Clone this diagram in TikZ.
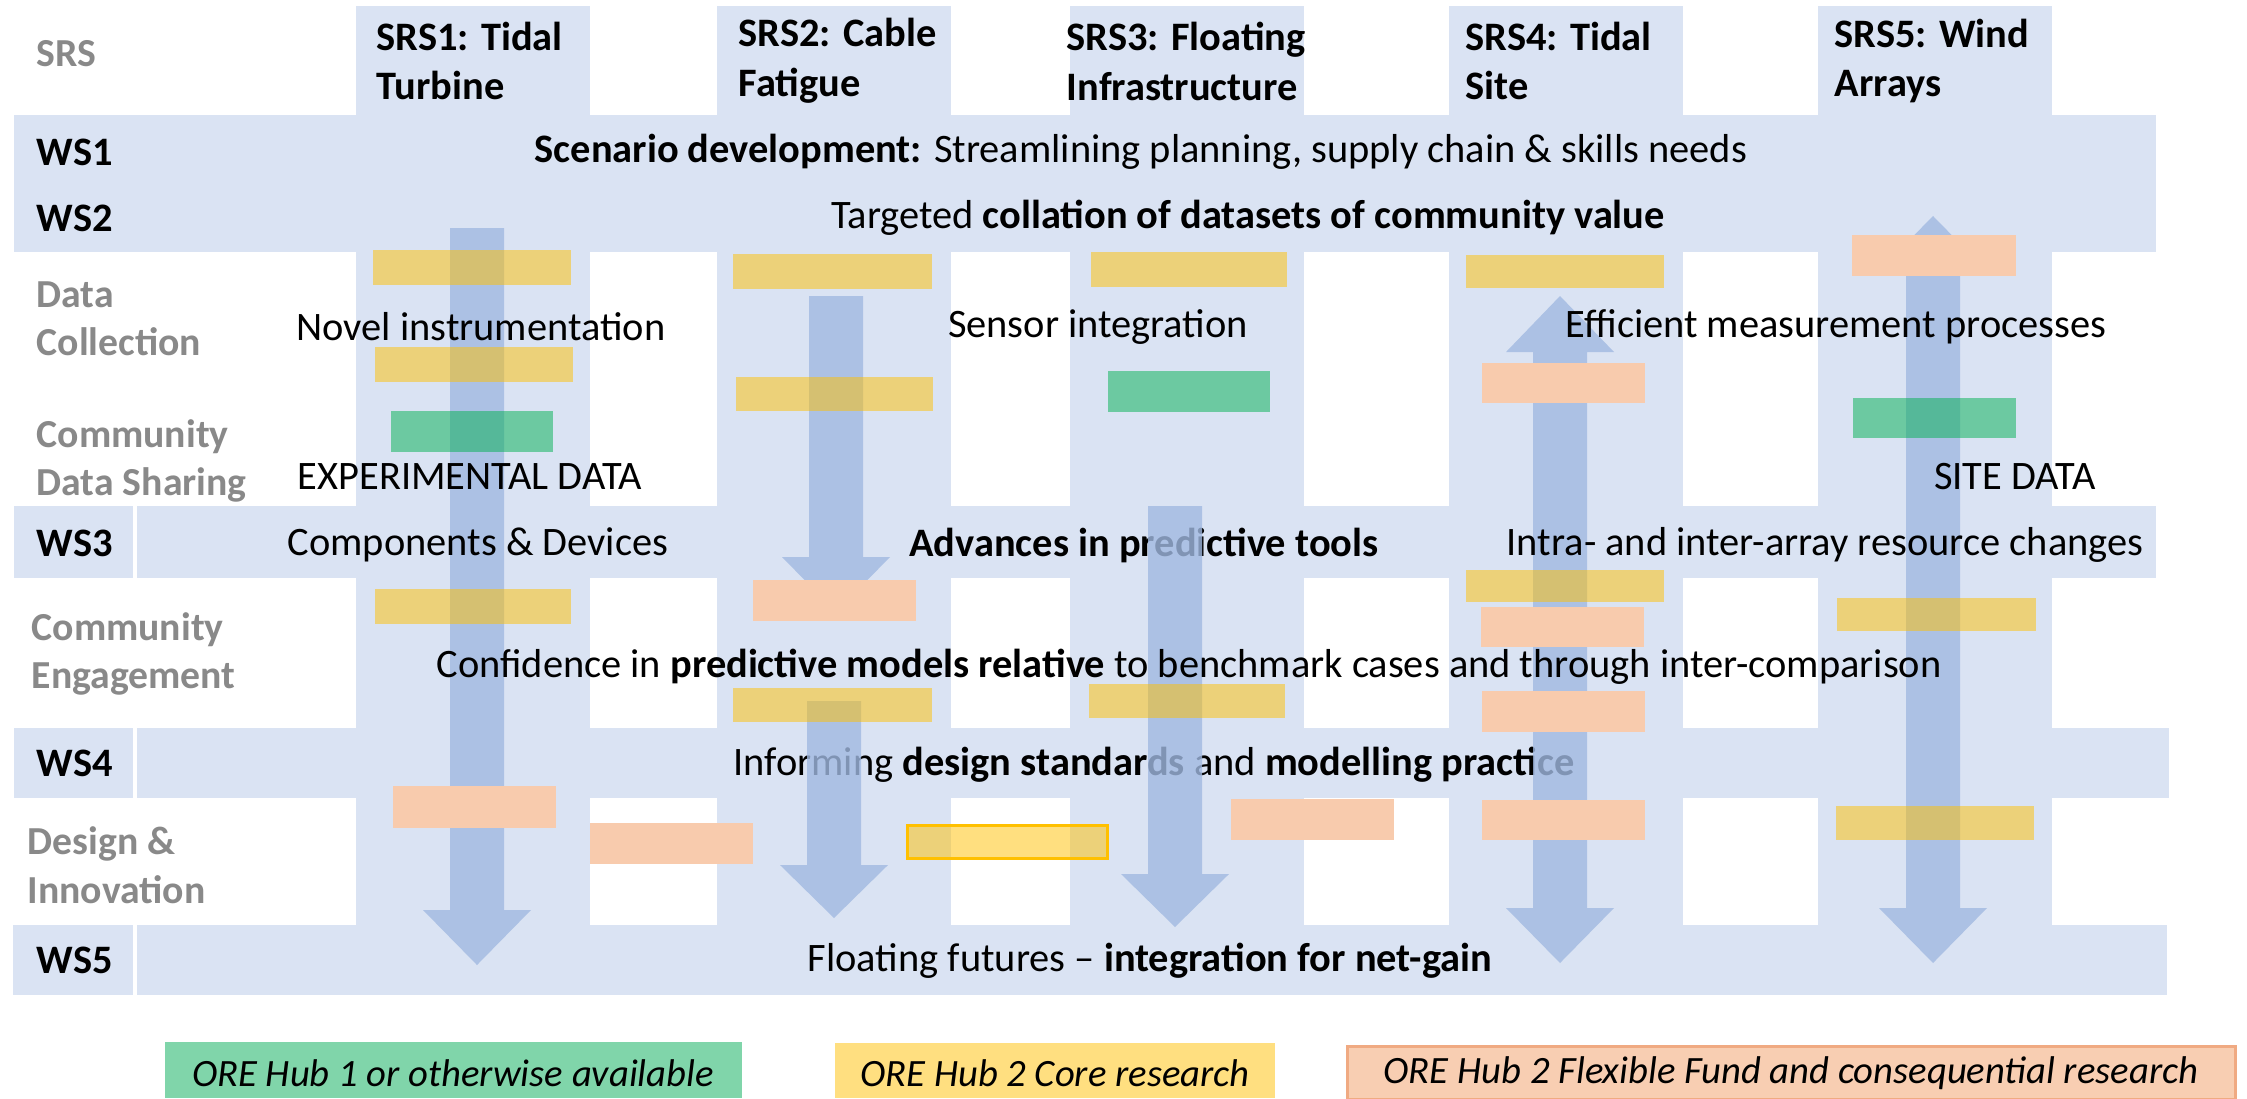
\documentclass[tikz,border=0pt]{standalone}
\usepackage{fontspec}
\setmainfont{Carlito}
\usetikzlibrary{positioning}

\definecolor{bandblue}{RGB}{218,227,243}
\definecolor{flowblue}{RGB}{161,185,225}
\definecolor{coreyellow}{RGB}{255,192,0}
\definecolor{hubgreen}{RGB}{0,176,80}
\definecolor{flexorange}{RGB}{248,203,173}
\definecolor{labelgray}{RGB}{137,137,137}
\definecolor{lgdgreen}{RGB}{128,213,170}
\definecolor{lgdyellow}{RGB}{255,223,128}
\definecolor{lgdorange}{RGB}{248,206,178}
\definecolor{lgdedge}{RGB}{240,170,130}

% block arrows: x, top, head base, tip
\newcommand{\flowdown}[4]{\fill[flow] (#1-27,#2) -- (#1+27,#2) -- (#1+27,#3) -- (#1+54,#3) -- (#1,#4) -- (#1-54,#3) -- (#1-27,#3) -- cycle;}
% both ways: x, top tip, top base, bottom base, bottom tip
\newcommand{\flowboth}[5]{\fill[flow] (#1,#2) -- (#1+54,#3) -- (#1+27,#3) -- (#1+27,#4) -- (#1+54,#4) -- (#1,#5) -- (#1-54,#4) -- (#1-27,#4) -- (#1-27,#3) -- (#1-54,#3) -- cycle;}

\begin{document}
\begin{tikzpicture}[
    x=0.1mm, y=-0.1mm,
    band/.style={fill=bandblue},
    flow/.style={fill=flowblue, fill opacity=0.8},
    ylw/.style={fill=coreyellow, fill opacity=0.5},
    grn/.style={fill=hubgreen, fill opacity=0.5},
    org/.style={fill=flexorange},
    txt/.style={inner sep=0, font=\fontsize{11.5}{14.2}\selectfont},
    head/.style={txt, anchor=west, align=left, font=\fontsize{11.5}{14.2}\selectfont\bfseries},
    wslab/.style={txt, anchor=west, font=\fontsize{11.5}{14.2}\selectfont\bfseries},
    rowlab/.style={txt, anchor=west, align=left, text=labelgray, font=\fontsize{11.3}{13.8}\selectfont\bfseries},
    lgd/.style={inner sep=0, font=\fontsize{11}{14}\selectfont\itshape}
]
\useasboundingbox (0,0) rectangle (2247,1098);

% SRS columns and WS bands
\foreach \cx in {356,717,1070,1449,1818}
    \fill[band] (\cx,6) rectangle (\cx+234,926);
\fill[band] (14,115) rectangle (2156,252);
\fill[band] (14,506) rectangle (2156,578);
\fill[band] (14,728) rectangle (2169,798);
\fill[band] (13,925) rectangle (2167,995);
\draw[white, line width=0.4mm] (135,506) -- (135,578) (135,728) -- (135,798) (135,925) -- (135,995);

% Row labels
\node[rowlab] (lsrs) at (36,54) {SRS};
\node[wslab] (lws1) at (36,152) {WS1};
\node[wslab] (lws2) at (36,218) {WS2};
\node[rowlab] (ldata) at (36,319) {Data\\Collection};
\node[rowlab] (lshare) at (36,461) {Community\\Data Sharing};
\node[wslab] (lws3) at (36,543) {WS3};
\node[rowlab] (lengage) at (31,654) {Community\\Engagement};
\node[wslab] (lws4) at (36,763) {WS4};
\node[rowlab] (ldesign) at (27,865) {Design \&\\Innovation};
\node[wslab] (lws5) at (36,960) {WS5};

% Column headers
\node[head] (hsrs1) at (376,61) {SRS1: Tidal\\Turbine};
\node[head] (hsrs2) at (738,61) {SRS2: Cable\\Fatigue};
\node[head] (hsrs3) at (1066,61) {SRS3: Floating\\Infrastructure};
\node[head] (hsrs4) at (1465,61) {SRS4: Tidal\\Site};
\node[head] (hsrs5) at (1834,61) {SRS5: Wind\\Arrays};

% Texts that the arrows run over
\node[txt] (tadvance) at (1144,545) {\textbf{Advances in predictive tools}};
\node[txt] (tinform) at (1154,765) {Informing \textbf{design standards} and \textbf{modelling practice}};

% Block arrows
\flowdown{477}{228}{910}{965}
\flowdown{836}{296}{557}{612}
\flowdown{834}{701}{865}{918}
\flowdown{1175}{506}{874}{927}
\flowboth{1560}{296}{352}{908}{963}
\flowboth{1933}{216}{271}{908}{963}

% Core research bars
\fill[ylw] (373,250) rectangle (571,285);
\fill[ylw] (375,347) rectangle (573,382);
\fill[ylw] (733,254) rectangle (932,289);
\fill[ylw] (736,377) rectangle (933,411);
\fill[ylw] (1091,252) rectangle (1287,287);
\fill[ylw] (1466,255) rectangle (1664,288);
\fill[ylw] (375,589) rectangle (571,624);
\fill[ylw] (733,688) rectangle (932,722);
\fill[ylw] (1089,684) rectangle (1285,718);
\fill[ylw] (1466,570) rectangle (1664,602);
\fill[ylw] (1837,598) rectangle (2036,631);
\fill[ylw] (1836,806) rectangle (2034,840);
\filldraw[ylw, draw=coreyellow, line width=0.3mm] (907,825) rectangle (1107,858);

% Hub 1 bars
\fill[grn] (391,411) rectangle (553,452);
\fill[grn] (1108,371) rectangle (1270,412);
\fill[grn] (1853,398) rectangle (2016,438);

% Flexible fund bars
\fill[org] (1852,235) rectangle (2016,276);
\fill[org] (1482,363) rectangle (1645,403);
\fill[org] (753,580) rectangle (916,621);
\fill[org] (1481,607) rectangle (1644,647);
\fill[org] (1482,691) rectangle (1645,732);
\fill[org] (393,786) rectangle (556,828);
\fill[org] (590,823) rectangle (753,864);
\fill[org] (1231,799) rectangle (1394,840);
\fill[org] (1482,800) rectangle (1645,840);

% Row texts
\node[txt] (tscenario) at (1141,152) {\textbf{Scenario development:} Streamlining planning, supply chain \& skills needs};
\node[txt] (tcollate) at (1248,218) {Targeted \textbf{collation of datasets of community value}};
\node[txt] (tnovel) at (481,327) {Novel instrumentation};
\node[txt] (tsensor) at (1098,327) {Sensor integration};
\node[txt] (tefficient) at (1836,327) {Efficient measurement processes};
\node[txt] (texp) at (470,477) {EXPERIMENTAL DATA};
\node[txt] (tsite) at (2015,477) {SITE DATA};
\node[txt] (tcomp) at (478,545) {Components \& Devices};
\node[txt] (tintra) at (1825,545) {Intra- and inter-array resource changes};
\node[txt] (tconf) at (1189,667) {Confidence in \textbf{predictive models relative} to benchmark cases and through inter-comparison};
\node[txt] (tfloat) at (1150,961) {Floating futures -- \textbf{integration for net-gain}};

% Legend
\fill[lgdgreen] (165,1042) rectangle (742,1098);
\fill[lgdyellow] (835,1043) rectangle (1275,1098);
\filldraw[fill=lgdorange, draw=lgdedge, line width=0.3mm] (1347,1046) rectangle (2235,1099);
\node[lgd] (lgdhub1) at (453,1073) {ORE Hub 1 or otherwise available};
\node[lgd] (lgdcore) at (1055,1073) {ORE Hub 2 Core research};
\node[lgd] (lgdflex) at (1791,1073) {ORE Hub 2 Flexible Fund and consequential research};

\end{tikzpicture}
\end{document}
